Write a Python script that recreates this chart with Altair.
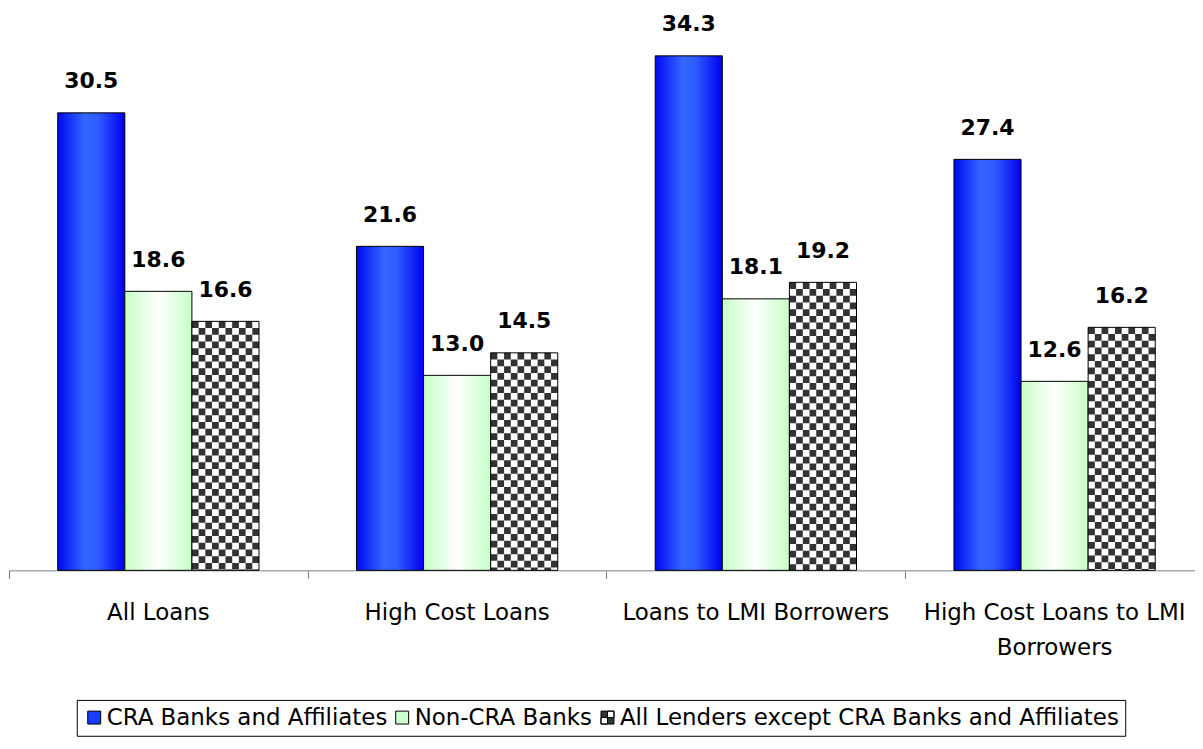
import altair as alt
import pandas as pd

# ---------------- data ----------------
categories = ["All Loans", "High Cost Loans", "Loans to LMI Borrowers",
              "High Cost Loans to LMI Borrowers"]
category_labels = ["All Loans", "High Cost Loans", "Loans to LMI Borrowers",
                   "High Cost Loans to LMI\nBorrowers"]
series = ["CRA Banks and Affiliates", "Non-CRA Banks",
          "All Lenders except CRA Banks and Affiliates"]
cra_banks = [30.5, 21.6, 34.3, 27.4]
non_cra_banks = [18.6, 13.0, 18.1, 12.6]
all_except_cra = [16.6, 14.5, 19.2, 16.2]
values = [cra_banks, non_cra_banks, all_except_cra]

# ---------------- layout / style ----------------
FONT = "DejaVu Sans"
PLOT_W = 1190
PLOT_H = 563
X_MAX = 3.97
Y_MAX = 37.41
BAR_W = 0.2246
N_CELLS = 10
px_per_unit = PLOT_W / X_MAX
cell_units = BAR_W / N_CELLS
cell_px = cell_units * px_per_unit

rows = []
for si, s in enumerate(series):
    for ci, c in enumerate(categories):
        center = ci + 0.5 + (si - 1) * BAR_W
        rows.append(dict(category=c, series=s, sidx=si, value=values[si][ci],
                         x0=center - BAR_W / 2, x1=center + BAR_W / 2,
                         xm=center, mid=values[si][ci] / 2, zero=0))
df = pd.DataFrame(rows)

cells = []
for r in rows:
    if r["sidx"] != 2:
        continue
    for k in range(N_CELLS):
        cells.append(dict(xc=r["x0"] + (k + 0.5) * cell_units, value=r["value"],
                          zero=0, parity=k % 2))
cells = pd.DataFrame(cells)

cat_df = pd.DataFrame(dict(label=category_labels,
                           xm=[i + 0.5 for i in range(len(categories))],
                           zero=[0] * len(categories)))

xscale = alt.Scale(domain=[0, X_MAX], nice=False, zero=False)
yscale = alt.Scale(domain=[0, Y_MAX], nice=False)
xaxis = alt.Axis(values=[0, 1, 2, 3], labels=False, grid=False, title=None,
                 domainColor="#808080", tickColor="#808080", tickSize=8,
                 domainWidth=1, tickWidth=1)


def X(f):
    return alt.X(f, type="quantitative", scale=xscale, axis=xaxis)


def Y(f):
    return alt.Y(f, type="quantitative", scale=yscale, axis=None)


blue_grad = {"gradient": "linear", "x1": 0, "x2": 1, "y1": 0, "y2": 0,
             "stops": [{"offset": 0, "color": "#0008f0"},
                       {"offset": 0.4, "color": "#3366ff"},
                       {"offset": 0.6, "color": "#2f5cff"},
                       {"offset": 1, "color": "#0000ee"}]}
green_grad = {"gradient": "linear", "x1": 0, "x2": 1, "y1": 0, "y2": 0,
              "stops": [{"offset": 0, "color": "#c6ffc6"},
                        {"offset": 0.5, "color": "#ffffff"},
                        {"offset": 1, "color": "#c6ffc6"}]}

checker_path = ("M-1,-1H1V1H-1Z M0,-1V0H1V-1Z M-1,0V1H0V0Z")
legend_colors = ["#1a3cff", "#ccffcc", "#333333"]
legend_shapes = ["square", "square", checker_path]

leg = alt.Legend(orient="none", legendX=68, legendY=693, direction="horizontal",
                 columns=3, title=None, symbolSize=169, labelFont=FONT,
                 labelFontSize=23, labelColor="black", labelOffset=1,
                 columnPadding=3, padding=6, strokeColor="black",
                 symbolStrokeColor="black", symbolStrokeWidth=1, labelLimit=800)

legend_src = alt.Chart(df).mark_point(filled=True, size=169, opacity=1,
                                      stroke="black", strokeWidth=1).encode(
    x=X("xm"), y=Y("mid"),
    color=alt.Color("series:N", scale=alt.Scale(domain=series, range=legend_colors), legend=leg),
    shape=alt.Shape("series:N", scale=alt.Scale(domain=series, range=legend_shapes), legend=leg),
)

blue = alt.Chart(df[df.sidx == 0]).mark_rect(fill=blue_grad, stroke="black", strokeWidth=1).encode(
    x=X("x0"), x2="x1", y=Y("value"), y2="zero")
green = alt.Chart(df[df.sidx == 1]).mark_rect(fill=green_grad, stroke="black", strokeWidth=1).encode(
    x=X("x0"), x2="x1", y=Y("value"), y2="zero")
checker_base = alt.Chart(df[df.sidx == 2]).mark_rect(fill="white").encode(
    x=X("x0"), x2="x1", y=Y("value"), y2="zero")

cell_layers = []
for parity in (0, 1):
    cell_layers.append(
        alt.Chart(cells[cells.parity == parity]).mark_rule(
            stroke="#333333", strokeWidth=cell_px, strokeDash=[cell_px, cell_px],
            strokeDashOffset=parity * cell_px, strokeCap="butt").encode(
            x=X("xc"), y=Y("value"), y2="zero"))

checker_outline = alt.Chart(df[df.sidx == 2]).mark_rect(
    filled=False, stroke="black", strokeWidth=1).encode(
    x=X("x0"), x2="x1", y=Y("value"), y2="zero")

value_labels = alt.Chart(df).mark_text(
    font=FONT, fontSize=22, fontWeight="bold", color="black", baseline="alphabetic",
    align="center", dy=-24.5).encode(
    x=X("xm"), y=Y("value"), text=alt.Text("value:Q", format=".1f"))

cat_labels = alt.Chart(cat_df).mark_text(
    font=FONT, fontSize=23, color="black", baseline="alphabetic", align="center",
    lineBreak="\n", lineHeight=35, dy=49.5).encode(
    x=X("xm"), y=Y("zero"), text="label:N")

chart = alt.layer(legend_src, blue, green, checker_base, *cell_layers,
                  checker_outline, value_labels, cat_labels).properties(
    width=PLOT_W, height=PLOT_H, padding=0, background="white"
).configure_view(stroke=None)

chart.save("out.html", embed_options={"renderer": "svg", "actions": False})
